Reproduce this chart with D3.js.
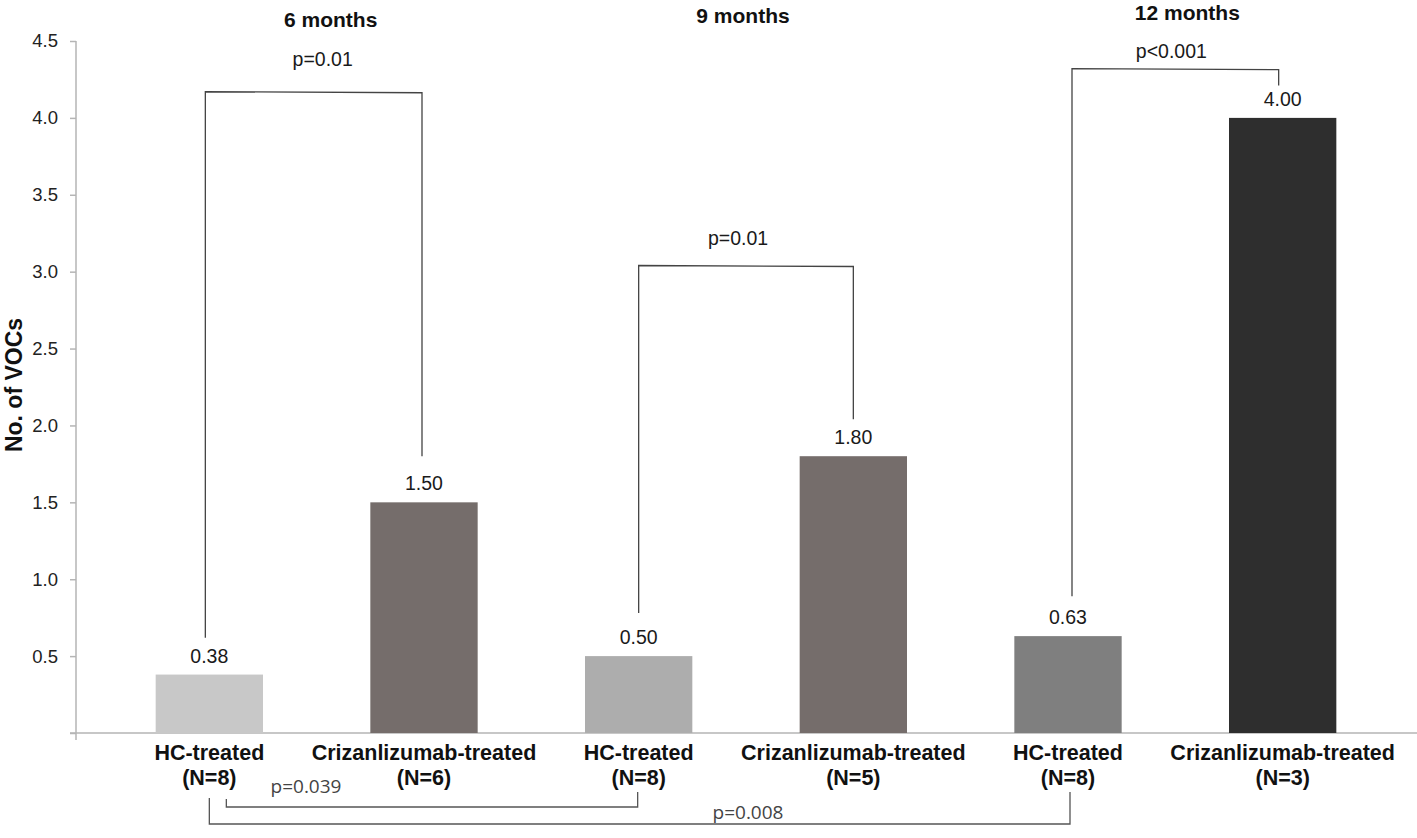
<!DOCTYPE html>
<html>
<head>
<meta charset="utf-8">
<script src="https://cdn.jsdelivr.net/npm/d3@7"></script>
<style>
  body { margin: 0; background: #fff; }
  svg { display: block; font-family: "Liberation Sans", Arial, sans-serif; }
</style>
</head>
<body>
<div id="chart"></div>
<script>
// data
const groups = ["HC-treated", "Crizanlizumab-treated", "HC-treated", "Crizanlizumab-treated", "HC-treated", "Crizanlizumab-treated"];
const sampleSizes = ["(N=8)", "(N=6)", "(N=8)", "(N=5)", "(N=8)", "(N=3)"];
const vocs = [0.38, 1.50, 0.50, 1.80, 0.63, 4.00];
const periods = ["6 months", "9 months", "12 months"];
const yTicks = [0, 0.5, 1.0, 1.5, 2.0, 2.5, 3.0, 3.5, 4.0, 4.5];

// within-period comparisons: bar indices, bracket top, where each leg stops (in VOCs)
const pairTests = [
    { a: 0, b: 1, p: "p=0.01",  top: 4.17, endA: 0.62, endB: 1.80 },
    { a: 2, b: 3, p: "p=0.01",  top: 3.04, endA: 0.78, endB: 2.04 },
    { a: 4, b: 5, p: "p<0.001", top: 4.32, endA: 0.89, endB: 4.21 }
];
// HC-treated across periods, drawn under the axis
const hcTests = [
    { a: 0, b: 2, p: "p=0.039" },
    { a: 0, b: 4, p: "p=0.008" }
];

const barColors = ["#c8c8c8", "#756d6b", "#adadad", "#756d6b", "#7f7f7f", "#2e2e2e"];

const width = 1417;
const height = 838;

const svg = d3.select("#chart")
    .append("svg")
    .attr("width", width)
    .attr("height", height);

const x = d3.scaleBand()
    .domain(d3.range(groups.length))
    .range([102, 1390])
    .paddingInner(0.5)
    .paddingOuter(0.25);

const y = d3.scaleLinear()
    .domain([0, 4.5])
    .range([733, 41]);

const cx = i => x(i) + x.bandwidth() / 2;

// x axis baseline
svg.append("line")
    .attr("x1", 70).attr("x2", width)
    .attr("y1", y(0)).attr("y2", y(0))
    .attr("stroke", "#b5b5b5")
    .attr("stroke-width", 1.5);

// y axis
const yAxis = svg.append("g")
    .attr("transform", "translate(76,0)")
    .call(d3.axisLeft(y)
        .tickValues(yTicks)
        .tickFormat(d => d === 0 ? "" : d3.format(".1f")(d))
        .tickSize(6)
        .tickSizeOuter(0)
        .tickPadding(12));
yAxis.select(".domain").remove();
yAxis.append("line")
    .attr("y1", y(4.5)).attr("y2", y(0) + 7)
    .attr("stroke", "#b5b5b5")
    .attr("stroke-width", 1.5);
yAxis.selectAll(".tick line").attr("stroke", "#b5b5b5").attr("stroke-width", 1.5);
yAxis.selectAll(".tick text")
    .attr("fill", "#222")
    .style("font-size", "18.5px")
    .style("font-family", "'Liberation Sans', Arial, sans-serif");

svg.append("text")
    .attr("transform", `translate(22, ${385}) rotate(-90)`)
    .attr("text-anchor", "middle")
    .attr("fill", "#111")
    .style("font-size", "23px")
    .style("font-weight", "bold")
    .text("No. of VOCs");

// bars
svg.selectAll("rect.bar")
    .data(vocs)
    .join("rect")
    .attr("class", "bar")
    .attr("x", (d, i) => x(i))
    .attr("y", d => y(d))
    .attr("width", x.bandwidth())
    .attr("height", d => y(0) - y(d))
    .attr("fill", (d, i) => barColors[i]);

// value labels
svg.selectAll("text.val")
    .data(vocs)
    .join("text")
    .attr("class", "val")
    .attr("x", (d, i) => cx(i))
    .attr("y", d => y(d) - 12)
    .attr("text-anchor", "middle")
    .attr("fill", "#1a1a1a")
    .style("font-size", "19.5px")
    .text(d => d.toFixed(2));

// category labels
const cat = svg.selectAll("text.cat")
    .data(groups)
    .join("text")
    .attr("class", "cat")
    .attr("text-anchor", "middle")
    .attr("fill", "#111")
    .style("font-size", "21.5px")
    .style("font-weight", "bold");
cat.append("tspan").attr("x", (d, i) => cx(i)).attr("y", 760).text(d => d);
cat.append("tspan").attr("x", (d, i) => cx(i)).attr("y", 785).text((d, i) => sampleSizes[i]);

// period titles
const titleNudge = [14, -3, 12];
const titleBase = [27, 23, 20];
periods.forEach((p, k) => {
    svg.append("text")
        .attr("x", (cx(2 * k) + cx(2 * k + 1)) / 2 + titleNudge[k])
        .attr("y", titleBase[k])
        .attr("text-anchor", "middle")
        .attr("fill", "#111")
        .style("font-size", "21px")
        .style("font-weight", "bold")
        .text(p);
});

// brackets above bars
const bracket = d3.line();
const pairLayout = [
    { dxA: -4, dxB: -2, labelDx: 9, labelGap: 26 },
    { dxA: 0, dxB: 0, labelDx: -8, labelGap: 21 },
    { dxA: 4, dxB: -4, labelDx: -4, labelGap: 11 }
];
pairTests.forEach((t, k) => {
    const L = pairLayout[k];
    const xa = cx(t.a) + L.dxA, xb = cx(t.b) + L.dxB;
    svg.append("path")
        .attr("d", bracket([[xa, y(t.endA)], [xa, y(t.top)], [xb, y(t.top) + 1], [xb, y(t.endB)]]))
        .attr("fill", "none")
        .attr("stroke", "#444")
        .attr("stroke-width", 1.3);
    svg.append("text")
        .attr("x", (xa + xb) / 2 + L.labelDx)
        .attr("y", y(t.top) - L.labelGap)
        .attr("text-anchor", "middle")
        .attr("fill", "#1a1a1a")
        .style("font-size", "19.5px")
        .text(t.p);
});

// brackets under the axis
const hcLayout = [
    { dxA: 17, dxB: -1, topA: 799, topB: 792, level: 807, lx: 306, ly: 793 },
    { dxA: 0, dxB: 2, topA: 798, topB: 792, level: 824, lx: 748, ly: 819 }
];
hcTests.forEach((t, k) => {
    const L = hcLayout[k];
    const xa = cx(t.a) + L.dxA, xb = cx(t.b) + L.dxB;
    svg.append("path")
        .attr("d", bracket([[xa, L.topA], [xa, L.level], [xb, L.level], [xb, L.topB]]))
        .attr("fill", "none")
        .attr("stroke", "#555")
        .attr("stroke-width", 1.3);
    svg.append("text")
        .attr("x", L.lx)
        .attr("y", L.ly)
        .attr("text-anchor", "middle")
        .attr("fill", "#444")
        .style("font-size", "19px")
        .style("font-family", "'Open Sans', 'DejaVu Sans', sans-serif")
        .text(t.p);
});
</script>
</body>
</html>
